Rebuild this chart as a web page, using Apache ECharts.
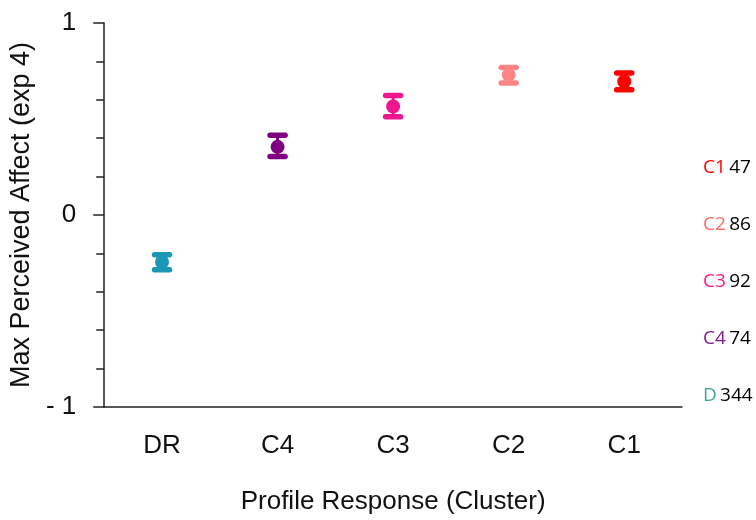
<!DOCTYPE html>
<html>
<head>
<meta charset="utf-8">
<script src="https://cdn.jsdelivr.net/npm/echarts@6/dist/echarts.min.js"></script>
<style>html,body{margin:0;padding:0;background:#fff}#c{width:756px;height:520px}</style>
</head>
<body>
<div id="c"></div>
<script>
var categories = ['DR', 'C4', 'C3', 'C2', 'C1'];
var means = [-0.245, 0.355, 0.565, 0.73, 0.695];
var lower = [-0.285, 0.305, 0.512, 0.688, 0.652];
var upper = [-0.207, 0.415, 0.622, 0.768, 0.74];
var markerColors = ['#1b98b5', '#800080', '#f0168f', '#ff8585', '#ff0000'];
var yTicks = [-1, 0, 1];
var legendNames = ['C1', 'C2', 'C3', 'C4', 'D'];
var legendCounts = [47, 86, 92, 74, 344];
var legendColors = ['#ff0000', '#ff6b6b', '#ff1a8c', '#7a1f8c', '#3aa898'];

var chart = echarts.init(document.getElementById('c'), null, {renderer: 'canvas'});
var font = 'Arial, "Liberation Sans", sans-serif';
var txt = '#111';

var rows = categories.map(function (c, i) { return [i, means[i], lower[i], upper[i]]; });

var legendGraphics = legendNames.map(function (n, i) {
  return {
    type: 'text',
    left: 703,
    top: 158 + i * 57,
    style: {
      text: '{n|' + n + '} {v|' + legendCounts[i] + '}',
      rich: {
        n: {fill: legendColors[i], fontSize: 19, fontFamily: '"Open Sans", sans-serif'},
        v: {fill: '#000', fontSize: 19, fontFamily: '"Open Sans", sans-serif'}
      }
    }
  };
});

chart.setOption({
  animation: false,
  grid: {left: 103, right: 74, top: 23, bottom: 112},
  xAxis: {
    type: 'category',
    data: categories,
    name: 'Profile Response (Cluster)',
    nameLocation: 'middle',
    nameGap: 82,
    nameTextStyle: {fontSize: 26, color: txt, fontFamily: font, verticalAlign: 'top'},
    axisLine: {onZero: false, lineStyle: {color: '#222', width: 1.5}},
    axisTick: {alignWithLabel: true, length: 12, lineStyle: {color: '#222', width: 1.5}},
    axisLabel: {fontSize: 26, color: txt, fontFamily: font, margin: 26},
    splitLine: {show: false}
  },
  yAxis: {
    type: 'value',
    min: -1, max: 1, interval: 1,
    name: 'Max Perceived Affect (exp 4)',
    nameLocation: 'middle',
    nameGap: 60,
    nameRotate: 90,
    nameTextStyle: {fontSize: 27, color: txt, fontFamily: font},
    axisLine: {show: true, lineStyle: {color: '#222', width: 1.5}},
    axisTick: {show: true, length: 11, lineStyle: {color: '#222', width: 1.5}},
    minorTick: {show: true, splitNumber: 5, length: 8, lineStyle: {color: '#222', width: 1.5}},
    axisLabel: {fontSize: 26, color: txt, fontFamily: font, margin: 28,
      formatter: function (v) { return yTicks.indexOf(v) >= 0 ? (v < 0 ? '- ' + Math.abs(v) : String(v)) : ''; }},
    splitLine: {show: false}
  },
  graphic: legendGraphics,
  series: [{
    type: 'custom',
    data: rows,
    encode: {x: 0, y: 1},
    renderItem: function (params, api) {
      var i = api.value(0);
      var c = api.coord([i, api.value(1)]);
      var lo = api.coord([i, api.value(2)]);
      var hi = api.coord([i, api.value(3)]);
      var col = markerColors[i];
      var hw = 7.5;
      var st = {stroke: col, lineWidth: 5.5, lineCap: 'round'};
      return {
        type: 'group',
        children: [
          {type: 'line', shape: {x1: c[0], y1: lo[1], x2: c[0], y2: hi[1]}, style: {stroke: col, lineWidth: 3}},
          {type: 'line', shape: {x1: c[0] - hw, y1: hi[1], x2: c[0] + hw, y2: hi[1]}, style: st},
          {type: 'line', shape: {x1: c[0] - hw, y1: lo[1], x2: c[0] + hw, y2: lo[1]}, style: st},
          {type: 'circle', shape: {cx: c[0], cy: c[1], r: 7}, style: {fill: col}}
        ]
      };
    }
  }]
});
</script>
</body>
</html>
